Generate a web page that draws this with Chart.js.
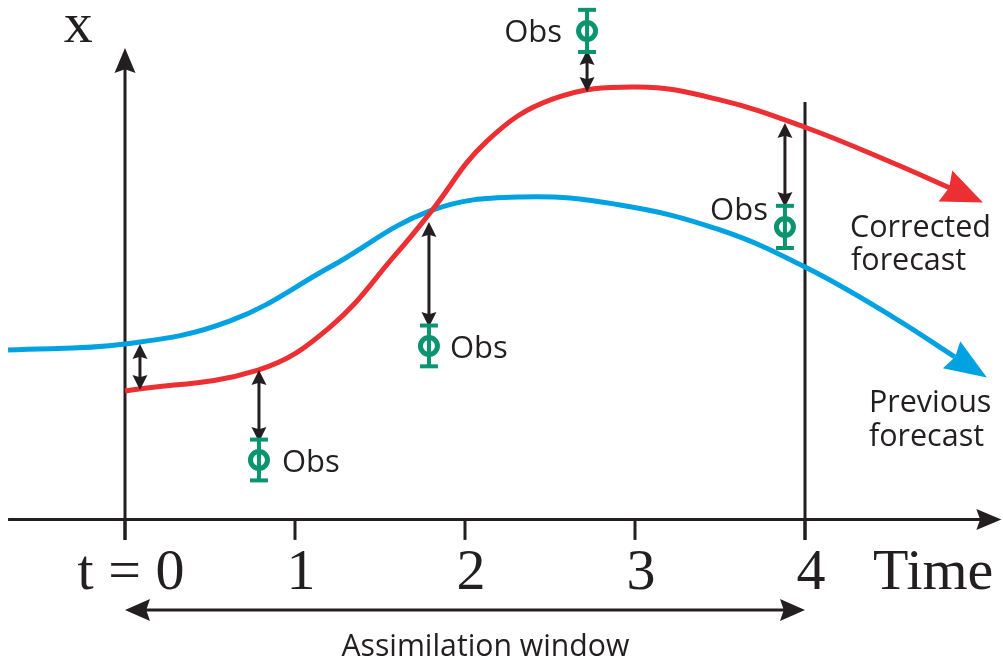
<!DOCTYPE html>
<html>
<head>
<meta charset="utf-8">
<script src="https://cdn.jsdelivr.net/npm/chart.js@4.4.1/dist/chart.umd.min.js"></script>
<style>
  html, body { margin: 0; padding: 0; background: #fff; }
  #wrap { width: 1003px; height: 657px; position: relative; }
</style>
</head>
<body>
<div id="wrap"><canvas id="assimChart"></canvas></div>
<script>
// time axis
const timeTicks = [0, 1, 2, 3, 4];
const tickLabels = ["t = 0", "1", "2", "3", "4"];

// previous forecast (blue)
const prevT = [-0.688, 0, 0.618, 1.206, 1.794, 2.324, 2.912, 3.5, 4.012, 4.518, 4.882];
const prevX = [0.997, 1.032, 1.168, 1.485, 1.815, 1.897, 1.85, 1.703, 1.479, 1.191, 0.956];

// corrected forecast (red)
const corrT = [0, 0.782, 1.206, 1.6, 1.794, 2.129, 2.518, 3.012, 3.5, 4.012, 4.518, 4.853];
const corrX = [0.756, 0.879, 1.132, 1.568, 1.803, 2.226, 2.474, 2.544, 2.468, 2.303, 2.097, 1.95];

// observations with error bars
const obsT = [0.788, 1.788, 2.718, 3.882];
const obsX = [0.35, 1.021, 2.874, 1.721];
const obsErr = [0.12, 0.12, 0.124, 0.124];

// innovation arrows (double headed)
const incT = [0.088, 0.788, 1.788, 2.718, 3.882];
const incFrom = [1.032, 0.879, 1.75, 2.762, 2.332];
const incTo = [0.762, 0.456, 1.132, 2.515, 1.838];

const windowStart = 0, windowEnd = 4;

const BLUE = "#00a2e2", RED = "#ec2f33", GREEN = "#0a9470", INK = "#231f20";

function head(ctx, x, y, ang, len, hw, notch) {
  ctx.save();
  ctx.translate(x, y);
  ctx.rotate(ang);
  ctx.beginPath();
  ctx.moveTo(0, 0);
  ctx.lineTo(-len, -hw);
  ctx.lineTo(-len * notch, 0);
  ctx.lineTo(-len, hw);
  ctx.closePath();
  ctx.fill();
  ctx.restore();
}

function line(ctx, x1, y1, x2, y2) {
  ctx.beginPath();
  ctx.moveTo(x1, y1);
  ctx.lineTo(x2, y2);
  ctx.stroke();
}

function dblArrow(ctx, x1, y1, x2, y2, len, hw) {
  const a = Math.atan2(y2 - y1, x2 - x1);
  const c = Math.cos(a), s = Math.sin(a);
  line(ctx, x1 + c * len * 0.6, y1 + s * len * 0.6, x2 - c * len * 0.6, y2 - s * len * 0.6);
  head(ctx, x2, y2, a, len, hw, 0.85);
  head(ctx, x1, y1, a + Math.PI, len, hw, 0.85);
}

const obsLabel = [
  { dx: 23, dy: 12, align: "left" },
  { dx: 21, dy: 12, align: "left" },
  { dx: -25, dy: 11, align: "right" },
  { dx: -17, dy: -7, align: "right" },
];

const axesPlugin = {
  id: "axesPlugin",
  beforeDatasetsDraw(chart) {
    const ctx = chart.ctx, xs = chart.scales.x, ys = chart.scales.y;
    const y0 = ys.getPixelForValue(0), yTick = ys.getPixelForValue(-0.12);
    ctx.save();
    ctx.strokeStyle = INK;
    ctx.fillStyle = INK;
    ctx.lineWidth = 3;
    // time axis
    const xl = xs.getPixelForValue(-0.688), xr = xs.getPixelForValue(5.155);
    line(ctx, xl, y0, xr - 20, y0);
    head(ctx, xr, y0, 0, 25, 10.5, 0.85);
    // x axis (vertical)
    const xa = xs.getPixelForValue(0), yTop = ys.getPixelForValue(2.774);
    line(ctx, xa, yTick, xa, yTop + 20);
    head(ctx, xa, yTop, -Math.PI / 2, 25, 10.5, 0.85);
    // ticks
    timeTicks.forEach(t => {
      const px = xs.getPixelForValue(t);
      line(ctx, px, y0, px, yTick);
    });
    // end of window line
    const xe = xs.getPixelForValue(windowEnd);
    line(ctx, xe, ys.getPixelForValue(2.456), xe, yTick);
    ctx.restore();
  },
  afterDatasetsDraw(chart) {
    const ctx = chart.ctx, xs = chart.scales.x, ys = chart.scales.y;
    ctx.save();
    // arrowheads on forecasts
    [[corrT, corrX, RED, 41, 17, 36], [prevT, prevX, BLUE, 42, 16, 38]].forEach(([T, X, col, len, hw, reach]) => {
      const n = T.length;
      const ax = xs.getPixelForValue(T[n - 2]), ay = ys.getPixelForValue(X[n - 2]);
      const bx = xs.getPixelForValue(T[n - 1]), by = ys.getPixelForValue(X[n - 1]);
      const a = Math.atan2(by - ay, bx - ax);
      ctx.fillStyle = col;
      head(ctx, bx + Math.cos(a) * reach, by + Math.sin(a) * reach, a, len, hw, 0.9);
    });
    // innovation arrows
    ctx.strokeStyle = INK;
    ctx.fillStyle = INK;
    ctx.lineWidth = 3;
    incT.forEach((t, i) => {
      const px = xs.getPixelForValue(t);
      dblArrow(ctx, px, ys.getPixelForValue(incFrom[i]), px, ys.getPixelForValue(incTo[i]), 15, 7.5);
    });
    // assimilation window
    const yw = ys.getPixelForValue(-0.532);
    dblArrow(ctx, xs.getPixelForValue(windowStart), yw, xs.getPixelForValue(windowEnd), yw, 25, 11);
    // error bars
    ctx.strokeStyle = GREEN;
    ctx.lineWidth = 4;
    obsT.forEach((t, i) => {
      const px = xs.getPixelForValue(t);
      const yt = ys.getPixelForValue(obsX[i] + obsErr[i]);
      const yb = ys.getPixelForValue(obsX[i] - obsErr[i]);
      line(ctx, px, yt, px, yb);
      line(ctx, px - 9, yt, px + 9, yt);
      line(ctx, px - 9, yb, px + 9, yb);
    });
    // texts
    ctx.fillStyle = INK;
    ctx.font = "31px 'Open Sans'";
    obsT.forEach((t, i) => {
      const o = obsLabel[i];
      ctx.textAlign = o.align;
      ctx.fillText("Obs", xs.getPixelForValue(t) + o.dx, ys.getPixelForValue(obsX[i]) + o.dy);
    });
    ctx.textAlign = "left";
    ctx.font = "30.5px 'Open Sans'";
    let lx = xs.getPixelForValue(4.265), ly = ys.getPixelForValue(1.662);
    ctx.fillText("Corrected", lx, ly);
    ctx.fillText("forecast", lx + 1, ly + 33);
    lx = xs.getPixelForValue(4.376); ly = ys.getPixelForValue(0.632);
    ctx.fillText("Previous", lx, ly);
    ctx.fillText("forecast", lx, ly + 34);

    // assimilation window label, condensed
    ctx.font = "31px 'Open Sans'";
    const label = "Assimilation window";
    const w = ctx.measureText(label).width;
    ctx.save();
    ctx.translate(xs.getPixelForValue(2.12), ys.getPixelForValue(-0.804));
    ctx.scale(288 / w, 1);
    ctx.textAlign = "center";
    ctx.fillText(label, 0, 0);
    ctx.restore();

    // serif tick labels
    ctx.font = "58px 'Liberation Serif'";
    ctx.textAlign = "center";
    const yl = ys.getPixelForValue(-0.409);
    timeTicks.forEach((t, i) => {
      ctx.fillText(tickLabels[i], xs.getPixelForValue(t) + 6, yl);
    });
    ctx.textAlign = "left";
    ctx.fillText("Time", xs.getPixelForValue(4.4), yl);
    ctx.fillText("x", xs.getPixelForValue(-0.36), ys.getPixelForValue(2.809));
    ctx.restore();
  }
};

const pts = (T, X) => T.map((t, i) => ({ x: t, y: X[i] }));

new Chart(document.getElementById("assimChart"), {
  type: "scatter",
  data: {
    datasets: [
      {
        label: "Obs",
        data: pts(obsT, obsX),
        pointRadius: 8.5,
        pointBorderWidth: 5,
        pointBorderColor: GREEN,
        pointBackgroundColor: "rgba(255,255,255,0)",
        order: 0,
      },
      {
        label: "Corrected forecast",
        data: pts(corrT, corrX),
        showLine: true,
        borderColor: RED,
        borderWidth: 5,
        pointRadius: 0,
        tension: 0.4,
        order: 1,
      },
      {
        label: "Previous forecast",
        data: pts(prevT, prevX),
        showLine: true,
        borderColor: BLUE,
        borderWidth: 5,
        pointRadius: 0,
        tension: 0.4,
        order: 2,
      },
    ],
  },
  options: {
    responsive: true,
    maintainAspectRatio: false,
    animation: false,
    layout: { padding: 0, autoPadding: false },
    plugins: { legend: { display: false }, tooltip: { enabled: false } },
    scales: {
      x: { type: "linear", min: -125 / 170, max: 878 / 170, display: false },
      y: { type: "linear", min: -137.5 / 170, max: 519.5 / 170, display: false },
    },
  },
  plugins: [axesPlugin],
});
</script>
</body>
</html>
